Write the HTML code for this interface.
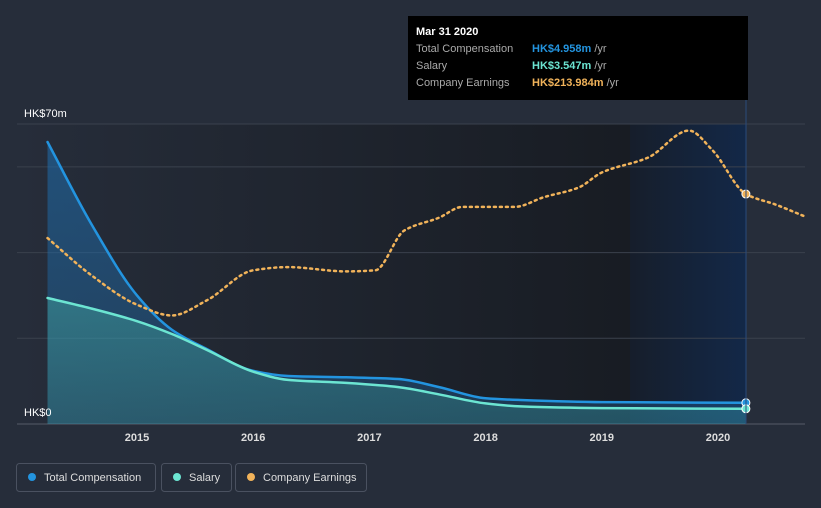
<!DOCTYPE html>
<html><head><meta charset="utf-8"><style>
body{margin:0;background:#262d3a;font-family:"Liberation Sans",sans-serif;}
svg{display:block}
</style></head><body>
<svg width="821" height="508">
<defs>
<linearGradient id="bgL" x1="0" x2="1" y1="0" y2="0"><stop offset="0" stop-color="#262d3a"/><stop offset="1" stop-color="#181c23"/></linearGradient>
<linearGradient id="bgB" x1="0" x2="1" y1="0" y2="0"><stop offset="0" stop-color="#161e2b"/><stop offset="1" stop-color="#132848"/></linearGradient>
<linearGradient id="fTC" x1="0" x2="0" y1="0" y2="1"><stop offset="0" stop-color="#1f6fb0" stop-opacity="0.55"/><stop offset="1" stop-color="#1f6fb0" stop-opacity="0.3"/></linearGradient>
<linearGradient id="fS" x1="0" x2="0" y1="0" y2="1"><stop offset="0" stop-color="#4bc7b5" stop-opacity="0.35"/><stop offset="1" stop-color="#4bc7b5" stop-opacity="0.2"/></linearGradient>
</defs>
<rect x="17" y="124" width="613" height="300" fill="url(#bgL)"/>
<rect x="630" y="124" width="116" height="300" fill="url(#bgB)"/>
<g id="grid"></g>
<g id="marks"></g>
<text x="24" y="117" fill="#fff" font-size="11">HK$70m</text>
<text x="24" y="416" fill="#fff" font-size="11">HK$0</text>
<g id="xt"></g>
<line x1="746" y1="100" x2="746" y2="424" stroke="#2a4a7a" stroke-width="1"/>
<g>
<rect x="408" y="16" width="340" height="84" fill="#000"/>
<text x="416" y="35" fill="#fff" font-size="11" font-weight="bold">Mar 31 2020</text>
<text x="416" y="52" fill="#aaa" font-size="11">Total Compensation</text>
<text x="532" y="52" fill="#2394df" font-size="11" font-weight="bold">HK$4.958m <tspan fill="#aaa" font-weight="normal">/yr</tspan></text>
<text x="416" y="69" fill="#aaa" font-size="11">Salary</text>
<text x="532" y="69" fill="#6ce5d2" font-size="11" font-weight="bold">HK$3.547m <tspan fill="#aaa" font-weight="normal">/yr</tspan></text>
<text x="416" y="86" fill="#aaa" font-size="11">Company Earnings</text>
<text x="532" y="86" fill="#f1b35a" font-size="11" font-weight="bold">HK$213.984m <tspan fill="#aaa" font-weight="normal">/yr</tspan></text>
</g>
<g>
<rect x="16.5" y="463.5" width="139" height="28" rx="3" fill="none" stroke="#4a5160"/>
<circle cx="32" cy="477" r="4" fill="#2394df"/>
<text x="44" y="481" fill="#ddd" font-size="11">Total Compensation</text>
<rect x="161.5" y="463.5" width="70" height="28" rx="3" fill="none" stroke="#4a5160"/>
<circle cx="177" cy="477" r="4" fill="#6ce5d2"/>
<text x="189" y="481" fill="#ddd" font-size="11">Salary</text>
<rect x="235.5" y="463.5" width="131" height="28" rx="3" fill="none" stroke="#4a5160"/>
<circle cx="251" cy="477" r="4" fill="#f1b35a"/>
<text x="263" y="481" fill="#ddd" font-size="11">Company Earnings</text>
</g>
</svg>
<script>
const years=[2015,2016,2017,2018,2019,2020];
const gridVals=[0,20,40,60,70];
const tcX=[2014.23,2014.6,2015,2015.3,2015.6,2016,2016.3,2016.8,2017.25,2017.6,2018,2018.3,2019,2020.24];
const tcY=[65.8,47,30,22,17.5,12.4,11.2,10.9,10.5,8.6,6,5.6,5.1,4.958];
const sX=[2014.23,2014.6,2015,2015.3,2015.6,2016,2016.3,2016.8,2017.25,2017.6,2018,2018.3,2019,2020.24];
const sY=[29.4,27,24,21,17.3,12.2,10.3,9.6,8.6,6.9,4.8,4.1,3.7,3.547];
const eX=[2014.23,2014.6,2015,2015.3,2015.6,2016,2016.3,2016.8,2017.05,2017.3,2017.6,2017.8,2018.25,2018.5,2018.8,2019,2019.4,2019.75,2019.95,2020.24,2020.5,2020.75];
const eY=[173,139,111,101,115,143,146,142,143,180,192,202,202,211,220,234,248,273,255,213.984,204,193];
const xs=v=>137+(v-2015)*116.2;
const ys=v=>424-v*300/70;
const ye=v=>424-v*230/214;
const NS='http://www.w3.org/2000/svg';
function mk(t,a,p){const e=document.createElementNS(NS,t);for(const k in a)e.setAttribute(k,a[k]);p.appendChild(e);return e;}
const grid=document.getElementById('grid'),marks=document.getElementById('marks'),xt=document.getElementById('xt');
gridVals.forEach(v=>{const l=mk('line',{x1:17,x2:805,y1:ys(v),y2:ys(v),stroke:v==0?'#555c68':'#3a414d','stroke-width':1},grid);

});
years.forEach(y=>{const t=mk('text',{x:xs(y),y:441,fill:'#ddd','font-size':11,'font-weight':'bold','text-anchor':'middle'},xt);t.textContent=y;

});
function smooth(px,py){const n=px.length,dx=[],s=[],m=[];
for(let i=0;i<n-1;i++){dx[i]=px[i+1]-px[i];s[i]=(py[i+1]-py[i])/dx[i];}
m[0]=s[0];m[n-1]=s[n-2];
for(let i=1;i<n-1;i++){if(s[i-1]*s[i]<=0)m[i]=0;else{const w1=2*dx[i]+dx[i-1],w2=dx[i]+2*dx[i-1];m[i]=(w1+w2)/(w1/s[i-1]+w2/s[i]);}}
let d='M'+px[0]+','+py[0];
for(let i=0;i<n-1;i++){const h=dx[i]/3;d+=' C'+(px[i]+h)+','+(py[i]+m[i]*h)+' '+(px[i+1]-h)+','+(py[i+1]-m[i+1]*h)+' '+px[i+1]+','+py[i+1];}
return d;}
function series(X,Y,sc,color,fill,name,dash){const px=X.map(xs),py=Y.map(sc);const d=smooth(px,py);
if(fill){const a=mk('path',{d:d+' L'+px[px.length-1]+',424 L'+px[0]+',424 Z',fill:fill},marks);

}
const l=mk('path',{d:d,fill:'none',stroke:color,'stroke-width':2.5,'stroke-dasharray':dash?'2 4':'','stroke-linecap':'round'},marks);

}
series(tcX,tcY,ys,'#2394df','url(#fTC)','total-compensation');
series(sX,sY,ys,'#6ce5d2','url(#fS)','salary');
series(eX,eY,ye,'#f1b35a',null,'company-earnings',true);
function dot(x,y,c,n){const d=mk('circle',{cx:x,cy:y,r:4,fill:c,stroke:'#fff','stroke-width':1},marks);

}
dot(xs(tcX[tcX.length-1]),ys(tcY[tcY.length-1]),'#2394df','total-compensation-point');
dot(xs(sX[sX.length-1]),ys(sY[sY.length-1]),'#6ce5d2','salary-point');
dot(xs(2020.24),ye(213.984),'#f1b35a','company-earnings-point');
</script>
</body></html>
